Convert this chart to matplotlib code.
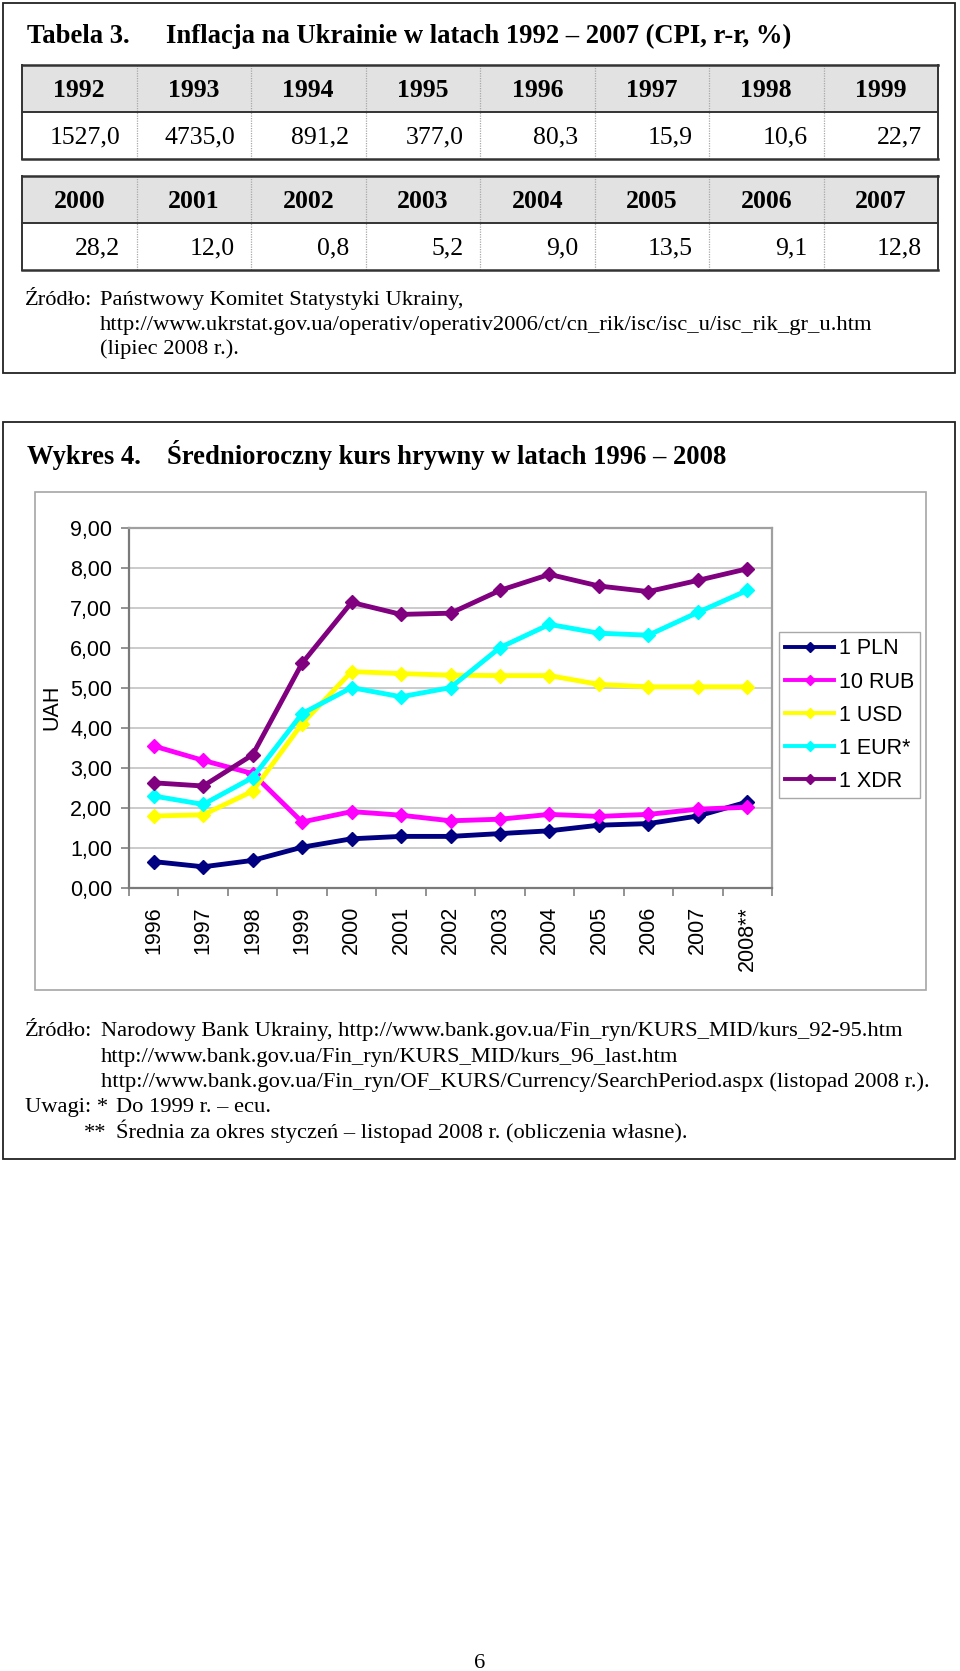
import numpy as np
import matplotlib
matplotlib.use('Agg')
import matplotlib.pyplot as plt
from matplotlib.patches import Rectangle

# table 3: CPI inflation
cpi_years_1 = ['1992', '1993', '1994', '1995', '1996', '1997', '1998', '1999']
cpi_values_1 = [1527.0, 4735.0, 891.2, 377.0, 80.3, 15.9, 10.6, 22.7]
cpi_years_2 = ['2000', '2001', '2002', '2003', '2004', '2005', '2006', '2007']
cpi_values_2 = [28.2, 12.0, 0.8, 5.2, 9.0, 13.5, 9.1, 12.8]

# chart 4: average yearly UAH exchange rate
chart_years = ['1996', '1997', '1998', '1999', '2000', '2001', '2002',
               '2003', '2004', '2005', '2006', '2007', '2008**']
pln = [0.66, 0.53, 0.69, 1.02, 1.23, 1.29, 1.29, 1.36, 1.43, 1.57, 1.61, 1.80, 2.15]
rub = [3.55, 3.19, 2.86, 1.65, 1.91, 1.82, 1.68, 1.72, 1.84, 1.79, 1.84, 1.97, 2.02]
usd = [1.80, 1.83, 2.42, 4.11, 5.41, 5.36, 5.32, 5.31, 5.31, 5.09, 5.03, 5.03, 5.03]
eur = [2.30, 2.09, 2.76, 4.36, 5.01, 4.78, 5.01, 6.01, 6.59, 6.37, 6.32, 6.89, 7.44]
xdr = [2.63, 2.55, 3.33, 5.62, 7.14, 6.84, 6.87, 7.44, 7.84, 7.55, 7.41, 7.69, 7.98]
series_labels = ['1 PLN', '10 RUB', '1 USD', '1 EUR*', '1 XDR']
series_colors = ['#000080', '#FF00FF', '#FFFF00', '#00FFFF', '#800080']

W, H = 960, 1671
SERIF = ['Liberation Serif', 'DejaVu Serif']
SANS = ['Liberation Sans', 'DejaVu Sans']

fig = plt.figure(figsize=(W / 100, H / 100), dpi=100)
bg = fig.add_axes([0, 0, 1, 1])
bg.set_xlim(0, W)
bg.set_ylim(H, 0)
bg.axis('off')


def txt(x, y, s, size=16.2, weight='normal', ha='left'):
    bg.text(x, y, s, fontsize=size, fontweight=weight, family=SERIF,
            ha=ha, va='baseline', color='black')


def fmt(v):
    return f'{v:.1f}'.replace('.', ',')


def draw_table(top, years, values):
    left, colw = 22, 114.5
    right = left + 8 * colw
    mid = top + 47
    bottom = mid + 47
    bg.add_patch(Rectangle((left, top), right - left, mid - top, fc='#e2e2e2', ec='none'))
    for i in range(1, 8):
        bg.plot([left + i * colw] * 2, [top, bottom], color='#a8a8a8', lw=0.9, ls=(0, (1, 1)))
    bg.plot([left, right], [top, top], color='#333333', lw=1.8)
    bg.plot([left, right], [mid, mid], color='#333333', lw=1.4)
    bg.plot([left, right], [bottom, bottom], color='#333333', lw=1.8)
    bg.plot([left, left], [top, bottom], color='#333333', lw=1.4)
    bg.plot([right, right], [top, bottom], color='#333333', lw=1.4)
    for i, (yr, v) in enumerate(zip(years, values)):
        txt(left + (i + 0.5) * colw, top + 32, yr, size=18.5, weight='bold', ha='center')
        txt(left + (i + 1) * colw - 16, mid + 31, fmt(v), size=18.5, ha='right')


# page boxes
bg.add_patch(Rectangle((3, 3), 952, 370, fill=False, ec='#222222', lw=1.3))
bg.add_patch(Rectangle((3, 422), 952, 737, fill=False, ec='#222222', lw=1.3))

# table 3
txt(27, 43, 'Tabela 3.', size=19.2, weight='bold')
txt(166, 43, 'Inflacja na Ukrainie w latach 1992 – 2007 (CPI, r-r, %)', size=19.2, weight='bold')
draw_table(65, cpi_years_1, cpi_values_1)
draw_table(176, cpi_years_2, cpi_values_2)
txt(25, 305, 'Źródło:')
txt(100, 305, 'Państwowy Komitet Statystyki Ukrainy,')
txt(100, 330, 'http://www.ukrstat.gov.ua/operativ/operativ2006/ct/cn_rik/isc/isc_u/isc_rik_gr_u.htm')
txt(100, 354, '(lipiec 2008 r.).')

# chart 4
txt(27, 464, 'Wykres 4.', size=19.2, weight='bold')
txt(167, 464, 'Średnioroczny kurs hrywny w latach 1996 – 2008', size=19.2, weight='bold')
bg.add_patch(Rectangle((35, 492), 891, 498, fill=False, ec='#a6a6a6', lw=1.2))

ax = fig.add_axes([129 / W, 1 - 888 / H, 643 / W, 360 / H])
x = np.arange(len(chart_years))
for vals, color, label in zip([pln, rub, usd, eur, xdr], series_colors, series_labels):
    ax.plot(x, vals, color=color, lw=3.5, marker='D', ms=7.2, mew=1.0, label=label)

ax.set_xlim(-0.5, len(chart_years) - 0.5)
ax.set_ylim(0, 9)
ax.set_yticks(range(10))
ax.set_yticklabels([f'{v},00' for v in range(10)], fontsize=15.5, family=SANS)
ax.set_xticks(x)
ax.set_xticklabels(chart_years, rotation=90, fontsize=15.5, family=SANS, va='top')
ax.set_xticks(np.arange(-0.5, len(chart_years)), minor=True)
ax.tick_params(axis='x', which='major', length=0, pad=13)
ax.tick_params(axis='x', which='minor', length=6, color='#808080', width=1.2)
ax.tick_params(axis='y', length=6, color='#808080', width=1.2, pad=6)
ax.yaxis.grid(True, color='#bdbdbd', lw=1.1)
ax.set_axisbelow(True)
for side in ['left', 'bottom']:
    ax.spines[side].set_color('#7a7a7a')
    ax.spines[side].set_linewidth(1.6)
for side in ['top', 'right']:
    ax.spines[side].set_color('#a0a0a0')
    ax.spines[side].set_linewidth(1.6)

fig.text(52 / W, 1 - 707 / H, 'UAH', rotation=90, fontsize=15.5, family=SANS,
         ha='center', va='center')

leg = ax.legend(loc='upper left', bbox_to_anchor=(779 / W, 1 - 632 / H),
                bbox_transform=fig.transFigure, fancybox=False, edgecolor='#a8a8a8',
                prop={'family': SANS, 'size': 15.5}, handlelength=2.25, handletextpad=0.22,
                labelspacing=0.56, borderpad=0.3, borderaxespad=0, framealpha=1)
leg.get_frame().set_linewidth(1.0)
for h in leg.get_lines():
    h.set_linewidth(2.8)
    h.set_markersize(5.5)

# notes
txt(25, 1036, 'Źródło:')
txt(101, 1036, 'Narodowy Bank Ukrainy, http://www.bank.gov.ua/Fin_ryn/KURS_MID/kurs_92-95.htm')
txt(101, 1062, 'http://www.bank.gov.ua/Fin_ryn/KURS_MID/kurs_96_last.htm')
txt(101, 1087, 'http://www.bank.gov.ua/Fin_ryn/OF_KURS/Currency/SearchPeriod.aspx (listopad 2008 r.).')
txt(25, 1112, 'Uwagi: *')
txt(116, 1112, 'Do 1999 r. – ecu.')
txt(84, 1138, '**')
txt(116, 1138, 'Średnia za okres styczeń – listopad 2008 r. (obliczenia własne).')

txt(480, 1668, '6', ha='center')

fig.savefig('out.png', dpi=100)
